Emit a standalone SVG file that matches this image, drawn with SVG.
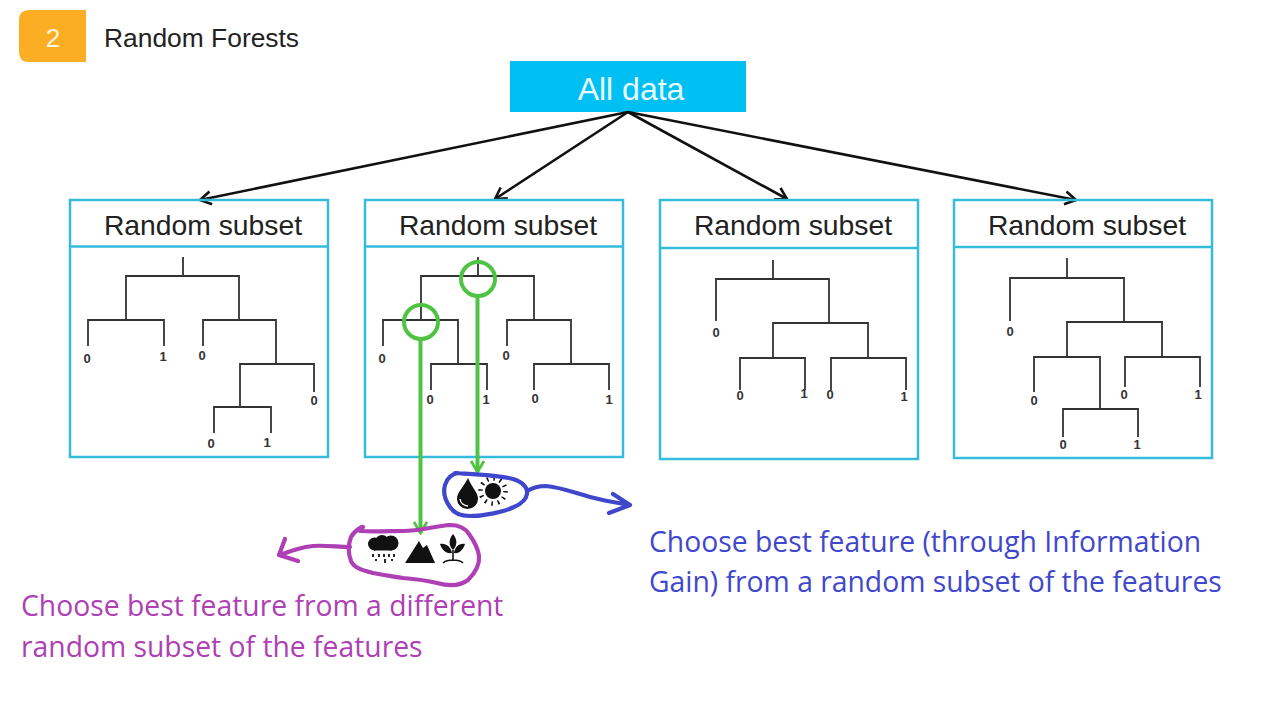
<svg xmlns="http://www.w3.org/2000/svg" width="1280" height="720" viewBox="0 0 1280 720">
<style>
.box{fill:none;stroke:#35bcdc;stroke-width:2.5}
.sub{font:28.3px "Liberation Sans",Arial,sans-serif;fill:#222;text-anchor:middle}
.tree{fill:none;stroke:#333;stroke-width:1.8}
.leaf{font:bold 13px "Liberation Sans",Arial,sans-serif;fill:#333;text-anchor:middle}
.arrow{fill:none;stroke:#111;stroke-width:2.6}
.green{fill:none;stroke:#4fc343;stroke-width:4}
.blue{fill:none;stroke:#3f48cc;stroke-width:4.2;stroke-linecap:round;stroke-linejoin:round}
.purple{fill:none;stroke:#ae3fb4;stroke-width:4.2;stroke-linecap:round;stroke-linejoin:round}
.note{font:28.3px "Open Sans",sans-serif}
.ic{fill:#111}
</style>
<defs>
<marker id="open" viewBox="0 0 16 16" refX="14" refY="8" markerWidth="16" markerHeight="16" markerUnits="userSpaceOnUse" orient="auto"><path d="M3 1.500L14 8L3 14.500" fill="none" stroke="#111" stroke-width="2.6"/></marker>
<marker id="gr" viewBox="0 0 16 16" refX="14" refY="8" markerWidth="16" markerHeight="16" markerUnits="userSpaceOnUse" orient="auto"><path d="M3 1.500L14 8L3 14.500" fill="none" stroke="#4fc343" stroke-width="2.800"/></marker>
</defs>
<rect width="1280" height="720" fill="#fff"/>
<g id="badge">
<path d="M29 10H86V62H29Q19 62 19 52V20Q19 10 29 10Z" fill="#fbae24"/>
<text x="53" y="47" font-family="Liberation Sans, Arial, sans-serif" font-size="26" fill="#fff5dc" text-anchor="middle">2</text>
</g>
<text id="title" x="104" y="47" font-family="Liberation Sans, Arial, sans-serif" font-size="26.4" fill="#222">Random Forests</text>
<g id="all-data">
<rect x="510" y="61" width="236" height="51" fill="#00bff3"/>
<text x="631" y="100" font-family="Liberation Sans, Arial, sans-serif" font-size="32" fill="#e8fbff" text-anchor="middle">All data</text>
</g>
<g id="connectors">
<path class="arrow" marker-end="url(#open)" d="M628 112L200 200"/>
<path class="arrow" marker-end="url(#open)" d="M628 112L495 199"/>
<path class="arrow" marker-end="url(#open)" d="M628 112L787 199"/>
<path class="arrow" marker-end="url(#open)" d="M628 112L1076 200"/>
</g>
<g id="subset-1">
<rect class="box" x="70" y="200" width="258" height="257"/><path class="box" d="M70 246.500H328"/>
<text class="sub" x="203" y="235">Random subset</text>
<path class="tree" d="M183 257V276M126 320V276H239V320M88 346V320H164V346M203 346V320H276V364M240 407V364H314V392M214 433V407H271V433"/>
<text class="leaf" x="87" y="363">0</text><text class="leaf" x="163" y="361">1</text><text class="leaf" x="202" y="360">0</text><text class="leaf" x="314" y="405">0</text><text class="leaf" x="211" y="448">0</text><text class="leaf" x="267" y="447">1</text>
</g>
<g id="subset-2">
<rect class="box" x="365" y="200" width="258" height="257"/><path class="box" d="M365 246.500H623"/>
<text class="sub" x="498" y="235">Random subset</text>
<path class="tree" d="M478 257V276M421 320V276H534V320M383 346V320H458V364M431 390V364H487V390M507 346V320H571V364M534 390V364H609V390"/>
<text class="leaf" x="382" y="363">0</text><text class="leaf" x="506" y="360">0</text><text class="leaf" x="430" y="404">0</text><text class="leaf" x="486" y="404">1</text><text class="leaf" x="535" y="403">0</text><text class="leaf" x="609" y="404">1</text>
</g>
<g id="subset-3">
<rect class="box" x="660" y="200" width="258" height="259"/><path class="box" d="M660 248H918"/>
<text class="sub" x="793" y="235">Random subset</text>
<path class="tree" d="M773 260V279M716 321V279H829V323M773 358V323H868V358M740 390V358H805V390M831 390V358H906V390"/>
<text class="leaf" x="716" y="337">0</text><text class="leaf" x="740" y="400">0</text><text class="leaf" x="804" y="398">1</text><text class="leaf" x="830" y="399">0</text><text class="leaf" x="904" y="401">1</text>
</g>
<g id="subset-4">
<rect class="box" x="954" y="200" width="258" height="258"/><path class="box" d="M954 247H1212"/>
<text class="sub" x="1087" y="235">Random subset</text>
<path class="tree" d="M1067 258V278M1010 321V278H1124V322M1067 357V322H1162V357M1034 392V357H1100V409M1063 437V409H1138V437M1125 387V357H1200V387"/>
<text class="leaf" x="1010" y="336">0</text><text class="leaf" x="1034" y="405">0</text><text class="leaf" x="1063" y="449">0</text><text class="leaf" x="1137" y="449">1</text><text class="leaf" x="1124" y="399">0</text><text class="leaf" x="1198" y="399">1</text>
</g>
<g id="green-markers">
<circle class="green" cx="478" cy="279" r="17"/>
<circle class="green" cx="421" cy="322" r="17"/>
<path class="green" marker-end="url(#gr)" d="M477.500 296V472"/>
<path class="green" marker-end="url(#gr)" d="M420.500 339V533"/>
</g>
<g id="blue-features">
<path class="ic" d="M468 478C463 488 457 492 457 499A10.500 10 0 0 0 478 499C478 492 472 488 468 478Z"/>
<path d="M460 499A8 8 0 0 0 468 506" fill="none" stroke="#fff" stroke-width="1.300"/>
<circle class="ic" cx="493" cy="491" r="8"/>
<circle cx="493" cy="491" r="12.500" fill="none" stroke="#111" stroke-width="4.500" stroke-dasharray="1.600 4.945"/>
<path class="blue" d="M455 473C470 474 500 475 513 479C523 482 528 488 527 494C526 500 521 504 514 507C503 512 485 516 470 516C460 516 454 513 450 507C445 500 443 492 445 485C447 478 452 474 458 473"/>
<path class="blue" d="M527 491C532 488 538 486 546 486C560 487 575 493 590 497C605 501 618 503 630 505M613 494L630 505L609 513"/>
</g>
<g id="purple-features">
<circle class="ic" cx="374.500" cy="544" r="6.500"/><circle class="ic" cx="382" cy="542" r="7"/><circle class="ic" cx="391" cy="543" r="7.500"/><rect class="ic" x="374" y="544" width="18" height="6.500"/>
<path d="M373 554V557M384 554V557M394 554V557M379 554V557M389 554V557M376 559V561M385 559V563M392 559V561" stroke="#111" stroke-width="1.800" fill="none"/>
<path class="ic" d="M405 563L419 541L423 548L427 545L435 563Z"/>
<path class="ic" d="M453 534C458 540 457 546 453 550C449 546 448 540 453 534ZM440 544C446 543 451 547 452 553C446 554 442 550 440 544ZM465 544C459 543 455 547 454 553C459 554 463 550 465 544Z"/>
<path d="M453 550V561M443 563C447 559 459 559 463 563" stroke="#111" stroke-width="1.600" fill="none"/>
<path class="purple" d="M363 527L360 531C375 532 390 531 403 531C420 531 435 526 450 525C460 525 465 528 469 534C474 541 478 548 479 556C480 566 474 574 468 580C460 586 448 586 437 583C425 580 415 579 403 578C392 576 382 575 373 573C362 570 354 568 351 561C348 553 348 545 351 537C354 532 358 529 362 527"/>
<path class="purple" d="M350 547C338 547 325 545 313 546C303 547 290 551 280 555M285 539L279 555L298 561"/>
</g>
<g id="notes">
<text class="note" x="649" y="552" fill="#3f48cc">Choose best feature (through Information</text>
<text class="note" x="649" y="592" fill="#3f48cc">Gain) from a random subset of the features</text>
<text class="note" x="21" y="616" fill="#ae3fb4">Choose best feature from a different</text>
<text class="note" x="21" y="657" fill="#ae3fb4">random subset of the features</text>
</g>
</svg>
